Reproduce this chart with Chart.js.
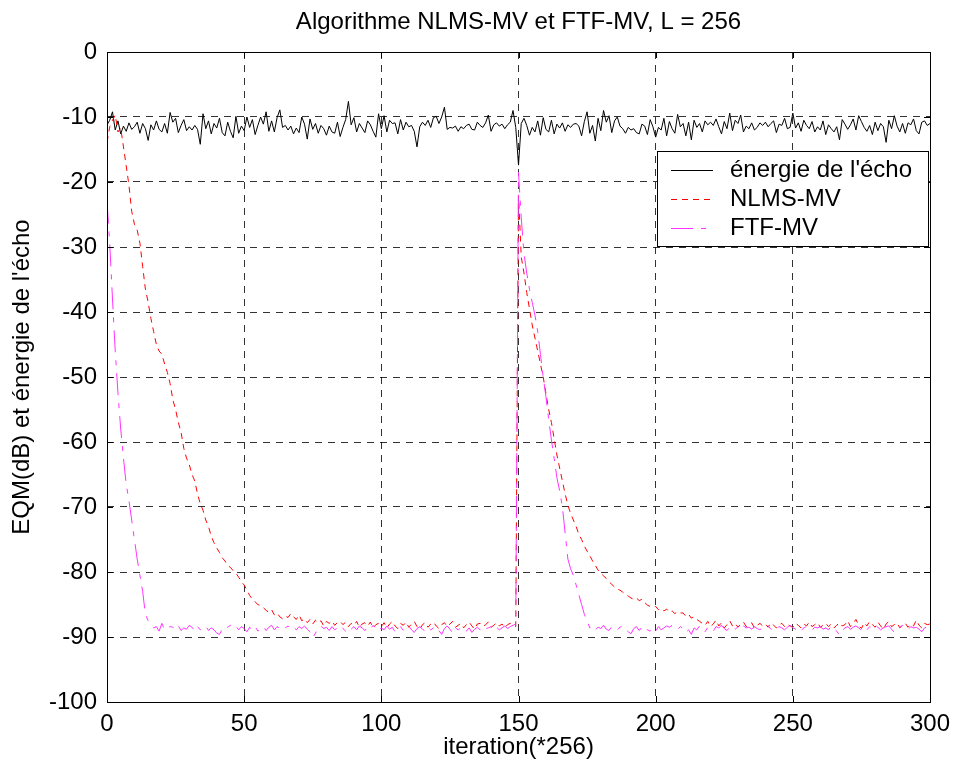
<!DOCTYPE html>
<html>
<head>
<meta charset="utf-8">
<script src="https://cdn.jsdelivr.net/npm/chart.js@4.4.0/dist/chart.umd.min.js"></script>
<style>
  html, body { margin: 0; padding: 0; background: #fff; }
</style>
</head>
<body>
<canvas id="chart" width="955" height="771"></canvas>
<script>
const chartTitle = "Algorithme NLMS-MV et FTF-MV, L = 256";
const xLabel = "iteration(*256)";
const yLabel = "EQM(dB) et énergie de l'écho";
const seriesNames = ["énergie de l'écho", "NLMS-MV", "FTF-MV"];
const xTicks = [0, 50, 100, 150, 200, 250, 300];
const yTicks = [0, -10, -20, -30, -40, -50, -60, -70, -80, -90, -100];

// one value per iteration, 0..300
const energie = [
  -11.2, -10.5, -9.2, -12.0, -10.6, -12.6, -11.4, -12.2, -10.9, -11.9,
  -11.5, -10.8, -12.5, -11.0, -11.8, -13.6, -11.2, -12.0, -10.6, -11.9,
  -12.3, -11.0, -12.5, -9.3, -10.8, -10.2, -12.4, -11.3, -10.4, -12.1,
  -11.5, -12.0, -11.3, -11.9, -14.2, -9.5, -11.8, -10.6, -12.6, -11.0,
  -11.7, -10.2, -12.4, -12.9, -10.8, -12.2, -13.2, -9.9, -12.5, -11.4,
  -12.1, -10.0, -11.6, -10.4, -12.7, -11.3, -10.0, -11.1, -9.2, -12.2,
  -10.6, -12.3, -10.1, -8.9, -11.6, -11.3, -12.0, -11.4, -12.6, -11.7,
  -12.4, -10.0, -11.1, -13.4, -10.3, -11.9, -11.0, -12.5, -11.3, -11.8,
  -12.8, -11.4, -12.3, -12.5, -10.8, -13.0, -11.6, -10.4, -7.6, -11.2,
  -10.1, -12.3, -11.0, -11.7, -12.4, -10.6, -11.2, -12.2, -13.1, -9.5,
  -11.8, -9.8, -12.3, -10.5, -11.0, -10.9, -12.6, -10.4, -12.0, -10.8,
  -11.5, -11.3, -12.2, -14.6, -11.5, -10.8, -11.3, -10.5, -11.6, -10.1,
  -9.9, -11.0, -10.0, -8.5, -11.9, -11.6, -11.7, -11.4, -12.2, -11.5,
  -11.8, -11.3, -11.1, -11.9, -12.0, -10.8, -11.3, -11.6, -10.9, -9.7,
  -12.2, -11.2, -10.9, -11.4, -11.1, -11.8, -11.2, -10.8, -9.0, -11.6,
  -17.4, -11.0, -10.2, -11.3, -12.8, -11.6, -12.3, -10.6, -12.8, -10.1,
  -11.9, -12.3, -10.5, -12.6, -11.1, -11.7, -10.9, -12.2, -11.2, -11.6,
  -11.1, -11.0, -11.4, -12.9, -10.7, -9.2, -12.5, -11.3, -13.7, -10.2,
  -12.1, -9.0, -10.8, -9.8, -12.4, -10.6, -10.0, -11.4, -11.8, -12.5,
  -11.6, -12.0, -11.8, -12.4, -12.6, -11.1, -11.4, -12.7, -10.4, -11.5,
  -13.1, -11.6, -12.0, -10.2, -12.9, -10.7, -11.8, -12.5, -9.6, -11.5,
  -11.0, -12.9, -10.8, -13.5, -10.5, -11.6, -11.0, -12.3, -10.6, -11.2,
  -10.8, -11.3, -10.3, -11.5, -12.6, -10.7, -11.8, -9.4, -12.1, -10.5,
  -11.0, -9.7, -12.3, -11.4, -11.8, -10.9, -12.0, -11.6, -10.9, -11.3,
  -10.8, -11.5, -11.0, -10.6, -12.4, -11.1, -11.3, -10.2, -11.8, -11.6,
  -9.4, -11.7, -10.9, -12.2, -10.5, -11.3, -11.8, -10.7, -12.3, -11.5,
  -12.0, -10.6, -12.7, -11.2, -11.8, -12.3, -11.5, -13.5, -10.4, -11.1,
  -11.9, -11.2, -10.3, -12.0, -9.8, -10.7, -11.6, -12.2, -11.3, -12.7,
  -10.8, -12.1, -11.0, -11.5, -13.9, -10.5, -11.8, -9.8, -11.4, -12.3,
  -11.0, -12.5, -10.9, -11.2, -10.3, -12.1, -12.6, -10.8, -10.6, -11.3,
  -11.0
];

const nlms = [
  -13.9, -11.5, -10.5, -9.7, -12.3, -11.7, -14.6, -17.5, -20.5, -24.5,
  -26.5, -27.4, -29.4, -33.0, -36.5, -38.5, -41.0, -43.0, -45.0, -46.0,
  -46.5, -48.0, -49.3, -51.0, -53.5, -55.0, -57.0, -58.5, -61.0, -62.5,
  -63.5, -65.0, -66.0, -68.0, -69.5, -70.5, -72.0, -73.0, -74.5, -75.5,
  -76.3, -77.0, -77.8, -78.3, -79.0, -79.3, -79.8, -80.2, -80.8, -81.5,
  -82.0, -82.8, -83.6, -84.2, -84.6, -85.0, -85.2, -85.5, -85.9, -86.2,
  -85.8, -86.6, -86.3, -86.9, -87.2, -86.8, -87.0, -86.4, -86.9, -87.3,
  -86.6, -87.5, -87.2, -87.8, -87.3, -88.0, -87.4, -87.8, -87.5, -88.3,
  -87.6, -87.9, -87.5, -88.2, -87.8, -87.6, -88.1, -87.7, -88.4, -87.9,
  -88.2, -87.6, -88.5, -88.0, -87.8, -88.3, -87.7, -88.6, -88.1, -87.9,
  -88.4, -87.8, -88.6, -88.0, -87.6, -88.3, -88.7, -87.9, -88.2, -87.7,
  -88.5, -88.0, -87.6, -88.4, -88.8, -88.1, -87.8, -88.5, -88.0, -87.7,
  -88.3, -88.7, -88.1, -87.8, -88.4, -88.0, -87.6, -88.5, -88.2, -87.9,
  -88.6, -88.1, -87.7, -88.3, -88.8, -88.0, -87.9, -88.4, -88.1, -87.7,
  -88.5, -88.2, -87.8, -88.3, -88.0, -88.6, -88.1, -87.9, -88.2, -88.4,
  -22.0, -31.5, -34.0, -37.0, -39.5, -42.0, -44.0, -46.0, -48.0, -50.0,
  -52.5, -55.0, -57.0, -59.5, -62.0, -64.0, -66.0, -68.0, -69.7, -71.0,
  -72.0, -73.0, -74.2, -75.0, -76.0, -76.8, -77.5, -78.3, -79.0, -79.7,
  -80.2, -80.6, -81.0, -81.5, -81.9, -82.3, -82.6, -82.8, -83.1, -83.4,
  -83.7, -84.0, -84.2, -84.0, -84.4, -84.2, -84.7, -85.1, -85.3, -85.4,
  -85.3, -85.8, -85.6, -86.0, -85.7, -86.2, -86.0, -86.4, -86.1, -86.3,
  -86.3, -86.8, -86.5, -87.1, -86.9, -87.3, -87.6, -87.9, -88.2, -87.6,
  -88.4, -88.0, -87.4, -88.3, -87.8, -88.6, -88.1, -87.5, -88.3, -87.9,
  -88.5, -88.0, -87.7, -88.4, -88.1, -87.8, -88.6, -88.2, -87.9, -88.3,
  -88.0, -88.5, -87.8, -88.2, -88.6, -88.1, -87.9, -88.4, -88.0, -88.3,
  -88.5, -87.9, -88.2, -88.6, -88.0, -88.3, -87.7, -88.4, -88.1, -87.8,
  -88.5, -88.2, -87.9, -88.4, -88.0, -88.6, -88.2, -87.8, -88.3, -88.1,
  -87.5, -88.4, -87.9, -87.3, -88.2, -88.7, -87.8, -88.3, -87.6, -88.1,
  -88.5, -87.7, -88.3, -88.8, -88.0, -87.6, -88.4, -88.1, -87.8, -88.6,
  -88.2, -87.9, -88.5, -88.0, -88.3, -87.4, -88.2, -88.6, -87.9, -88.1,
  -88.0
];

const ftf = [
  -23.0, -29.5, -38.0, -46.0, -52.5, -58.0, -62.5, -66.5, -69.0, -72.0,
  -75.0, -78.0, -80.5, -83.0, -86.5, -87.5, -88.2, -88.6, -88.4, -89.1,
  -87.9, -88.9, -88.6, -88.4, -88.5, -88.9, -88.3, -89.0, -88.6, -88.8,
  -88.2, -88.5, -89.1, -88.4, -88.9, -88.7, -88.3, -89.0, -88.6, -88.9,
  -89.4, -89.6, -88.8, -88.3, -88.5, -88.2, -88.6, -88.3, -88.9, -88.4,
  -88.7, -89.2, -88.5, -88.9, -88.4, -89.1, -88.6, -88.4, -89.0, -88.5,
  -88.2, -88.9, -88.4, -88.7, -89.0, -88.6, -88.3, -88.8, -88.5, -88.9,
  -88.4, -88.7, -88.3, -88.8, -89.2, -90.1, -89.4, -88.6, -88.3, -88.7,
  -88.5, -89.0, -88.4, -88.9, -88.6, -88.2, -88.7, -89.1, -88.5, -88.8,
  -88.4, -88.9, -88.3, -88.6, -89.0, -88.5, -88.8, -88.2, -88.7, -89.1,
  -88.6, -88.9, -88.3, -88.8, -88.5, -89.2, -88.7, -88.4, -89.0, -88.6,
  -88.3, -88.9, -89.3, -88.7, -88.4, -88.8, -89.1, -88.5, -88.9, -88.6,
  -88.4, -89.0, -89.6, -88.7, -88.3, -88.8, -89.4, -88.6, -88.9, -88.5,
  -88.7, -89.1, -88.6, -89.3, -88.8, -88.5, -88.9, -88.4, -88.7, -88.6,
  -88.4, -88.8, -88.5, -88.9, -88.6, -88.3, -88.7, -88.4, -88.2, -88.0,
  -18.5, -25.5, -31.0, -34.0, -36.5, -38.5, -40.5, -43.0, -46.5, -50.0,
  -53.0, -56.5, -59.7, -62.5, -65.5, -67.5, -70.0, -74.0, -78.0, -79.5,
  -80.5, -82.0, -83.5, -85.0, -86.5, -87.5, -88.6, -88.3, -88.9, -88.5,
  -88.7, -88.2, -88.8, -89.0, -88.4, -88.6, -88.9, -88.5, -88.3, -88.8,
  -89.2, -89.5, -88.7, -88.4, -89.0, -88.5, -88.3, -88.9, -89.1, -88.6,
  -89.1, -88.4, -88.9, -88.6, -88.3, -88.5, -88.2, -88.3, -88.8, -88.4,
  -88.7, -89.3, -88.9, -89.6, -88.6, -88.9, -88.3, -88.7, -89.2, -88.5,
  -88.8, -89.1, -88.4, -88.6, -88.2, -88.7, -89.0, -88.5, -88.3, -88.8,
  -88.4, -88.9, -88.3, -88.6, -88.5, -88.8, -88.4, -88.7, -88.9, -88.5,
  -88.6, -88.3, -88.8, -89.0, -88.7, -88.4, -88.6, -88.9, -88.5, -88.2,
  -88.6, -88.8, -88.5, -89.0, -88.6, -88.4, -88.7, -88.9, -88.5, -88.6,
  -88.4, -88.8, -88.6, -88.9, -88.3, -88.7, -89.1, -89.7, -89.0, -88.6,
  -88.4, -88.8, -88.5, -88.3, -88.6, -89.0, -88.6, -88.9, -88.4, -88.7,
  -88.3, -88.5, -88.9, -88.6, -88.4, -88.3, -88.8, -89.3, -88.7, -88.5,
  -88.2, -88.7, -88.9, -88.4, -88.6, -88.5, -88.8, -89.2, -88.6, -88.4,
  -88.7
];

const FONT = '"Liberation Sans", Arial, sans-serif';
const FONT_SIZE = 24;

const toPoints = arr => arr.map((v, i) => ({ x: i, y: v }));

// frame, inward ticks, title and in-plot legend, matlab style
const matlabFrame = {
  id: 'matlabFrame',
  afterDraw(chart) {
    const { ctx, chartArea: a, scales: { x, y } } = chart;
    ctx.save();
    ctx.strokeStyle = '#000';
    ctx.lineWidth = 1;
    ctx.setLineDash([]);
    ctx.strokeRect(a.left + 0.5, a.top + 0.5, a.right - a.left, a.bottom - a.top);

    const tl = 6;
    ctx.beginPath();
    xTicks.forEach(v => {
      const px = Math.round(x.getPixelForValue(v)) + 0.5;
      ctx.moveTo(px, a.bottom); ctx.lineTo(px, a.bottom - tl);
      ctx.moveTo(px, a.top); ctx.lineTo(px, a.top + tl);
    });
    yTicks.forEach(v => {
      const py = Math.round(y.getPixelForValue(v)) + 0.5;
      ctx.moveTo(a.left, py); ctx.lineTo(a.left + tl, py);
      ctx.moveTo(a.right, py); ctx.lineTo(a.right - tl, py);
    });
    ctx.stroke();

    // title
    ctx.fillStyle = '#000';
    ctx.font = FONT_SIZE + 'px ' + FONT;
    ctx.textAlign = 'center';
    ctx.textBaseline = 'middle';
    ctx.fillText(chartTitle, (a.left + a.right) / 2, 22);

    // legend box
    const bx = 657, by = 151, bw = 271, bh = 95;
    ctx.fillStyle = '#fff';
    ctx.fillRect(bx, by, bw, bh);
    ctx.strokeStyle = '#000';
    ctx.strokeRect(bx + 0.5, by + 0.5, bw, bh);
    ctx.textAlign = 'left';
    chart.data.datasets.forEach((ds, i) => {
      const ly = by + 19 + i * 29 + 0.5;
      ctx.strokeStyle = ds.borderColor;
      ctx.setLineDash(ds.borderDash || []);
      ctx.beginPath();
      ctx.moveTo(bx + 14, ly);
      ctx.lineTo(bx + 56, ly);
      ctx.stroke();
      ctx.setLineDash([]);
      ctx.fillStyle = '#000';
      ctx.fillText(ds.label, bx + 73, ly);
    });
    ctx.restore();
  }
};

new Chart(document.getElementById('chart'), {
  type: 'line',
  data: {
    datasets: [
      { label: seriesNames[0], data: toPoints(energie), borderColor: '#000000', borderWidth: 1, order: 3 },
      { label: seriesNames[1], data: toPoints(nlms), borderColor: '#ff0000', borderWidth: 1, borderDash: [6, 5], order: 2 },
      { label: seriesNames[2], data: toPoints(ftf), borderColor: '#ff33ff', borderWidth: 1, borderDash: [22, 8, 5, 8], order: 1 }
    ]
  },
  options: {
    responsive: false,
    animation: false,
    devicePixelRatio: 1,
    layout: { padding: { top: 52, right: 25, left: 0, bottom: 0 } },
    elements: { point: { radius: 0 }, line: { tension: 0 } },
    plugins: { legend: { display: false }, tooltip: { enabled: false }, title: { display: false } },
    scales: {
      x: {
        type: 'linear', min: 0, max: 300,
        afterFit: s => { s.height = 69; s.paddingLeft = 0; s.paddingRight = 0; },
        afterBuildTicks: s => { s.ticks = xTicks.map(v => ({ value: v })); },
        ticks: { color: '#000', font: { family: FONT, size: FONT_SIZE }, padding: 8, maxRotation: 0 },
        grid: { color: 'rgba(0,0,0,0.8)', lineWidth: 1, drawTicks: false },
        border: { display: false, dash: [7, 6] },
        title: { display: true, text: xLabel, color: '#000', font: { family: FONT, size: FONT_SIZE }, padding: { top: 0, bottom: 9 } }
      },
      y: {
        type: 'linear', min: -100, max: 0,
        afterFit: s => { s.width = 107; s.paddingTop = 0; s.paddingBottom = 0; },
        afterBuildTicks: s => { s.ticks = yTicks.map(v => ({ value: v })); },
        ticks: { color: '#000', font: { family: FONT, size: FONT_SIZE }, padding: 10 },
        grid: { color: 'rgba(0,0,0,0.8)', lineWidth: 1, drawTicks: false },
        border: { display: false, dash: [7, 6] },
        title: { display: true, text: yLabel, color: '#000', font: { family: FONT, size: FONT_SIZE }, padding: { top: 8, bottom: 0 } }
      }
    }
  },
  plugins: [matlabFrame]
});
</script>
</body>
</html>
